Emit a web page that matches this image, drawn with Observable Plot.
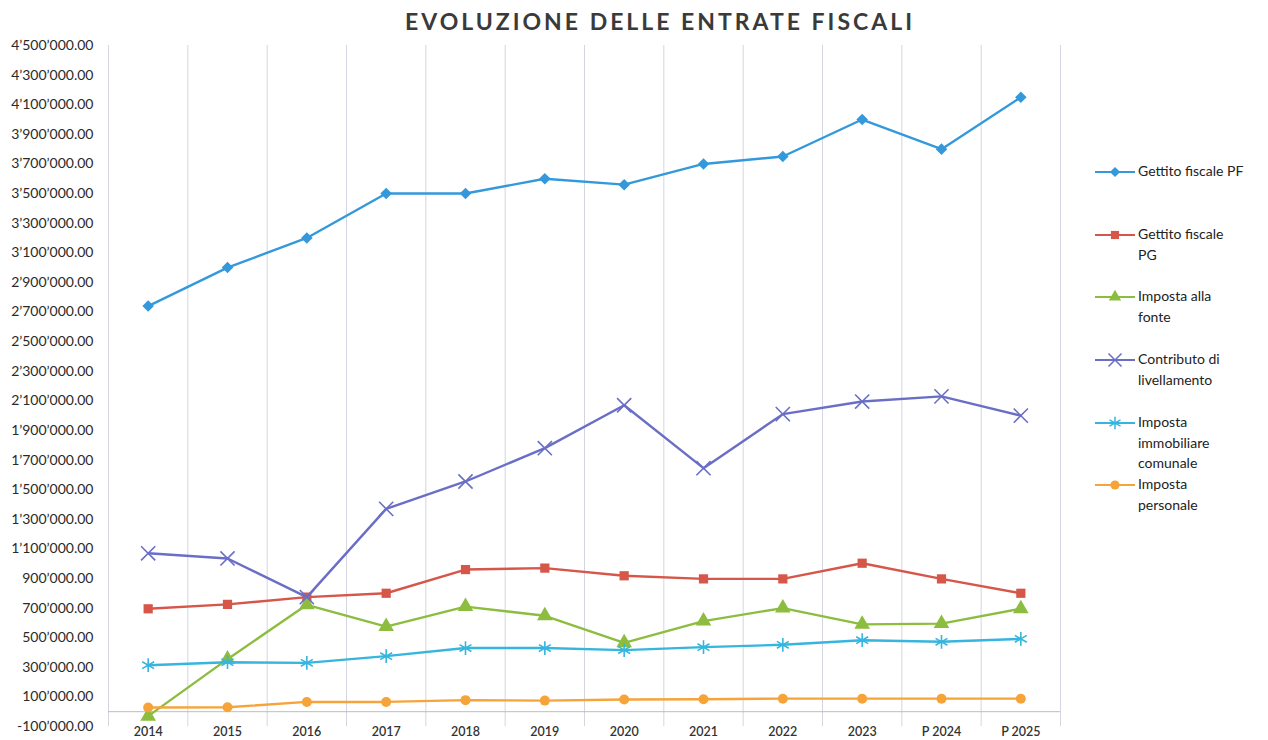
<!DOCTYPE html>
<html>
<head>
<meta charset="utf-8">
<script src="https://cdn.jsdelivr.net/npm/d3@7"></script>
<script src="https://cdn.jsdelivr.net/npm/@observablehq/plot@0.6"></script>
<style>
  html, body { margin: 0; padding: 0; background: #fff; }
  #wrap { position: relative; width: 1268px; height: 740px; overflow: hidden; font-family: Lato, "Open Sans", sans-serif; }
  #title { height: 40px; line-height: 42px; text-align: center; font-weight: 700; font-size: 23px; letter-spacing: 3px; color: #3a3a3a; padding-left: 52px; box-sizing: border-box; }
  #legend { position: absolute; left: 1095px; top: 161px; font-size: 14px; color: #222; }
  .item { position: absolute; left: 0; display: flex; align-items: flex-start; }
  .item svg { flex: none; margin-top: 1px; }
  .item div { line-height: 20.5px; margin-left: 3px; white-space: nowrap; }
</style>
</head>
<body>
<div id="wrap">
  <div id="title">EVOLUZIONE DELLE ENTRATE FISCALI</div>
  <div id="chart"></div>
  <div id="legend"></div>
</div>
<script>
const categories = ["2014","2015","2016","2017","2018","2019","2020","2021","2022","2023","P 2024","P 2025"];
const seriesNames = ["Gettito fiscale PF","Gettito fiscale PG","Imposta alla fonte","Contributo di livellamento","Imposta immobiliare comunale","Imposta personale"];
const legendLines = [["Gettito fiscale PF"],["Gettito fiscale","PG"],["Imposta alla","fonte"],["Contributo di","livellamento"],["Imposta","immobiliare","comunale"],["Imposta","personale"]];
const legendTops = [0, 63, 125, 188, 251, 313];
const seriesColors = ["#3399dc","#d6564a","#8cbd3e","#6a6ec6","#36b5de","#f6a43a"];
const seriesSymbols = ["diamond2","square","triangle","times","asterisk","circle"];

const gettitoPF = [2740000,3000000,3200000,3500000,3500000,3600000,3560000,3700000,3750000,4000000,3800000,4150000];
const gettitoPG = [695000,725000,774000,800000,960000,970000,918000,897000,897000,1003000,897000,800000];
const impostaFonte = [-30000,355000,722000,575000,710000,648000,465000,612000,700000,590000,595000,695000];
const contributoLivellamento = [1070000,1035000,774000,1370000,1555000,1780000,2070000,1645000,2010000,2095000,2130000,2000000];
const impostaImmobiliare = [314000,334000,330000,375000,430000,430000,416000,436000,452000,483000,472000,492000];
const impostaPersonale = [28000,30000,66000,66000,78000,75000,82000,84000,88000,88000,88000,88000];

const yTickValues = [-100000,100000,300000,500000,700000,900000,1100000,1300000,1500000,1700000,1900000,2100000,2300000,2500000,2700000,2900000,3100000,3300000,3500000,3700000,3900000,4100000,4300000,4500000];

const seriesValues = [gettitoPF, gettitoPG, impostaFonte, contributoLivellamento, impostaImmobiliare, impostaPersonale];

const rows = [];
seriesNames.forEach((s, si) => {
  seriesValues[si].forEach((v, i) => rows.push({series: s, idx: i, cat: categories[i], value: v}));
});

const locale = d3.formatLocale({decimal: ".", thousands: "\u2019", grouping: [3], currency: ["", ""], minus: "-"});
const fmt = locale.format(",.2f");
const boundaries = d3.range(categories.length + 1).map(i => i - 0.5);

const marks = [
  Plot.ruleX(boundaries, {stroke: "#d3d6e0", strokeWidth: 1}),
  Plot.ruleY([0], {stroke: "#bdbdbd", strokeWidth: 1}),
  Plot.axisY({ticks: yTickValues, tickFormat: fmt, tickSize: 0, tickPadding: 15, fontSize: 14, fill: "#2a2a2a", label: null}),
  Plot.axisX({ticks: d3.range(categories.length), tickFormat: i => categories[i], tickSize: 0, tickPadding: 1, fontSize: 12.5, fontWeight: 600, fill: "#333", label: null, style: {letterSpacing: "1.6px"}})
];

const rFor = sym => sym === "square" ? 5.2 : sym === "diamond2" ? 5.2 : sym === "triangle" ? 5.8 : sym === "circle" ? 5 : 6.5;

seriesNames.forEach((s, si) => {
  const d = rows.filter(r => r.series === s);
  const c = seriesColors[si];
  marks.push(Plot.line(d, {x: "idx", y: "value", stroke: c, strokeWidth: 2.4}));
  const sym = seriesSymbols[si];
  const hollow = sym === "times" || sym === "asterisk";
  marks.push(Plot.dot(d, {
    x: "idx", y: "value", symbol: () => sym,
    r: rFor(sym),
    fill: hollow ? "none" : c, stroke: hollow ? c : "none", strokeWidth: 1.6
  }));
});

const chart = Plot.plot({
  width: 1268,
  height: 700,
  marginTop: 5,
  marginLeft: 108,
  marginRight: 208,
  marginBottom: 14,
  style: {fontFamily: "Lato, 'Open Sans', sans-serif", background: "#fff", overflow: "visible"},
  x: {type: "linear", domain: [-0.5, categories.length - 0.5], axis: null},
  y: {domain: [-100000, 4500000], axis: null},
  symbol: {type: "identity"},
  marks
});
document.getElementById("chart").appendChild(chart);

// legend
const legend = document.getElementById("legend");
seriesNames.forEach((s, si) => {
  const item = document.createElement("div");
  item.className = "item";
  item.style.top = legendTops[si] + "px";
  const c = seriesColors[si];
  const sym = seriesSymbols[si];
  const sw = d3.create("svg").attr("width", 40).attr("height", 20);
  sw.append("line").attr("x1", 0).attr("x2", 40).attr("y1", 10).attr("y2", 10).attr("stroke", c).attr("stroke-width", 2.2);
  const hollow = sym === "times" || sym === "asterisk";
  const symObj = {diamond2: d3.symbolDiamond2, square: d3.symbolSquare, triangle: d3.symbolTriangle, times: d3.symbolTimes, asterisk: d3.symbolAsterisk, circle: d3.symbolCircle}[sym];
  const sizeR = hollow ? 6 : 4.6;
  sw.append("path").attr("transform", "translate(20,10)")
    .attr("d", d3.symbol(symObj, Math.PI * sizeR * sizeR)())
    .attr("fill", hollow ? "none" : c).attr("stroke", hollow ? c : "none").attr("stroke-width", 1.5);
  item.appendChild(sw.node());
  const txt = document.createElement("div");
  txt.innerHTML = legendLines[si].join("<br>");
  item.appendChild(txt);
  legend.appendChild(item);
});
</script>
</body>
</html>
